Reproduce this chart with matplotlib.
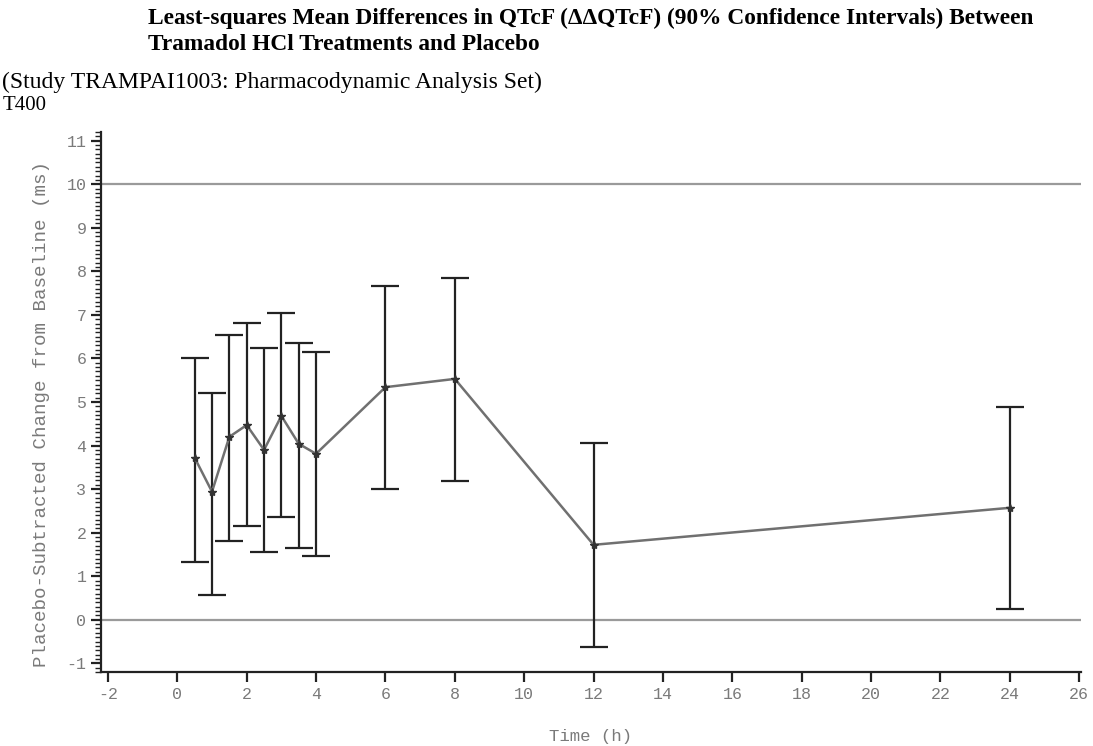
import numpy as np
import matplotlib.pyplot as plt
from matplotlib.ticker import MultipleLocator

# LS mean ddQTcF and 90% CI
time_h = [0.5, 1, 1.5, 2, 2.5, 3, 3.5, 4, 6, 8, 12, 24]
ls_mean = [3.72, 2.94, 4.20, 4.47, 3.90, 4.68, 4.04, 3.81, 5.34, 5.53, 1.72, 2.57]
ci_upper = [6.01, 5.21, 6.54, 6.81, 6.24, 7.04, 6.35, 6.15, 7.66, 7.84, 4.06, 4.89]
ci_lower = [1.33, 0.57, 1.81, 2.16, 1.56, 2.36, 1.65, 1.47, 3.00, 3.19, -0.62, 0.25]
ref_lines = [0, 10]
xticks = np.arange(-2, 27, 2)
yticks = np.arange(-1, 12, 1)

plt.rcParams['axes.unicode_minus'] = False
mono = 'Liberation Mono'
serif = 'Liberation Serif'
grey_txt = '#7a7a7a'

fig = plt.figure(figsize=(10.93, 7.46), dpi=100)
ax = fig.add_axes([0.0924, 0.0992, 0.8966, 0.7239])

m = np.array(ls_mean)
yerr = [m - np.array(ci_lower), np.array(ci_upper) - m]

for r in ref_lines:
    ax.axhline(r, color='#9a9a9a', lw=1.6, zorder=1)

ax.errorbar(time_h, ls_mean, yerr=yerr, fmt='none', ecolor='#222222',
            elinewidth=1.6, capsize=10, capthick=1.6, zorder=2)
ax.plot(time_h, ls_mean, color='#707070', lw=1.8, zorder=3)
ax.plot(time_h, ls_mean, ls='none', marker='*', ms=6, color='#333333', zorder=4)

ax.set_xlim(-2.2, 26.05)
ax.set_ylim(-1.2, 11.2)
ax.set_xticks(xticks)
ax.set_yticks(yticks)
ax.yaxis.set_minor_locator(MultipleLocator(0.1))
ax.spines['top'].set_visible(False)
ax.spines['right'].set_visible(False)
for s in ('left', 'bottom'):
    ax.spines[s].set_linewidth(1.6)
    ax.spines[s].set_color('#222222')
ax.tick_params(axis='both', which='major', length=7, width=1.6, color='#222222',
               labelcolor=grey_txt, labelsize=12)
ax.tick_params(axis='y', which='minor', length=4, width=1.0, color='#222222')
for lab in ax.get_xticklabels() + ax.get_yticklabels():
    lab.set_family(mono)

ax.set_xlabel('Time (h)', family=mono, color=grey_txt, fontsize=12.5, labelpad=20)
ax.set_ylabel('Placebo-Subtracted Change from Baseline (ms)', family=mono,
              color=grey_txt, fontsize=13.8)
ax.yaxis.set_label_coords(-0.052, 0.478)

fig.text(0.135, 0.975, 'Least-squares Mean Differences in QTcF (\u0394\u0394QTcF) (90% Confidence Intervals) Between',
         family=serif, weight='bold', fontsize=16.8, va='center', ha='left')
fig.text(0.135, 0.940, 'Tramadol HCl Treatments and Placebo',
         family=serif, weight='bold', fontsize=16.8, va='center', ha='left')
fig.text(0.002, 0.890, '(Study TRAMPAI1003: Pharmacodynamic Analysis Set)',
         family=serif, fontsize=17, va='center', ha='left')
fig.text(0.002, 0.858, 'T400', family=serif, fontsize=15, va='center', ha='left')

fig.savefig('out.png', dpi=100)
